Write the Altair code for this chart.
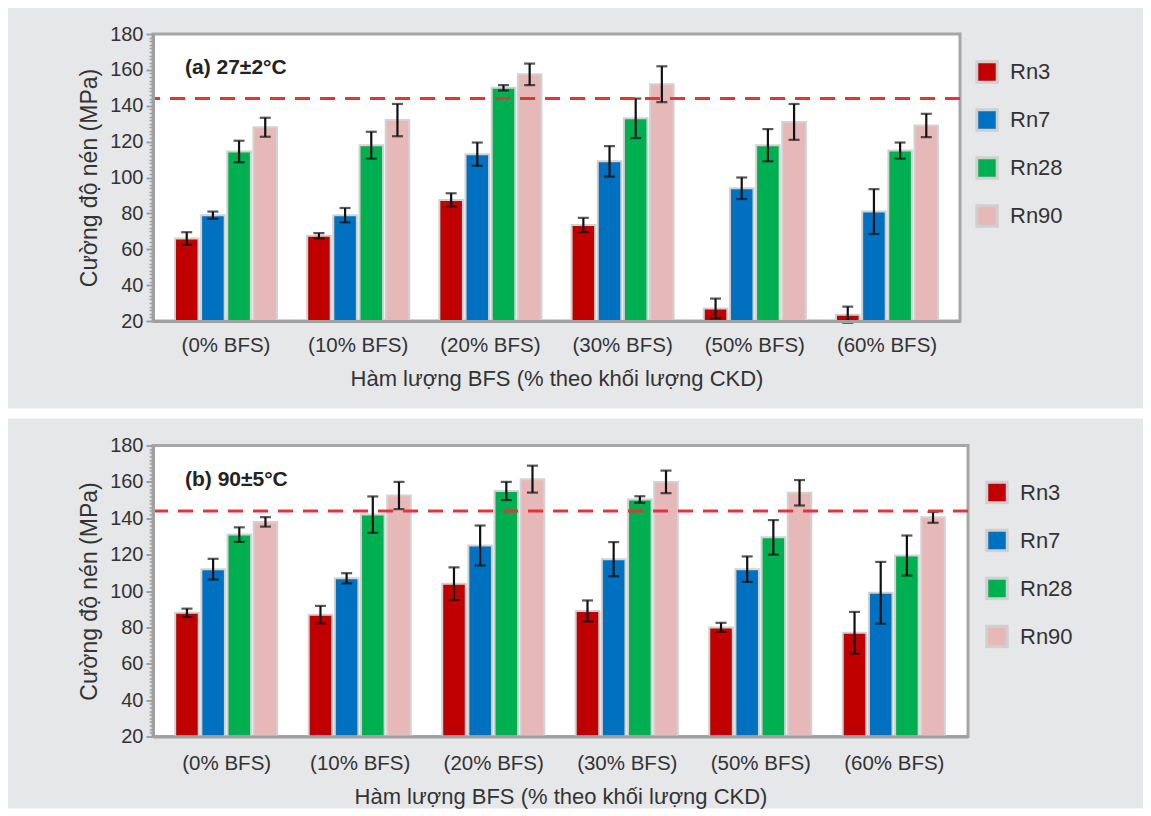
import altair as alt
import pandas as pd

groups = ["(0% BFS)", "(10% BFS)", "(20% BFS)", "(30% BFS)", "(50% BFS)", "(60% BFS)"]
series = ["Rn3", "Rn7", "Rn28", "Rn90"]

# Panel (a) 27±2°C
a_rn3 = [66, 67.5, 87.5, 73.5, 27, 23.5]
a_rn3_err = [3.5, 1.5, 3.7, 4, 5.5, 4.5]
a_rn7 = [79, 79, 113, 109, 94, 81]
a_rn7_err = [2, 4, 6.5, 8.5, 6, 12.5]
a_rn28 = [114.5, 118, 150, 133, 118, 115]
a_rn28_err = [6, 7.5, 1.5, 11, 9, 4.5]
a_rn90 = [128, 132, 157.5, 152, 131, 129]
a_rn90_err = [5.3, 9, 6, 10, 10, 6.5]

# Panel (b) 90±5°C
b_rn3 = [88, 87, 104, 89, 80, 77]
b_rn3_err = [2.3, 4.8, 9, 5.8, 2.5, 11.5]
b_rn7 = [112, 107, 125, 117.5, 112, 99]
b_rn7_err = [5.7, 2.8, 11, 9.4, 7, 17]
b_rn28 = [131, 142, 155, 150.3, 129.5, 119.5]
b_rn28_err = [4, 10, 5, 1.8, 9.5, 11]
b_rn90 = [138, 152.5, 161.5, 160, 154, 140.5]
b_rn90_err = [2.6, 7.5, 7.4, 6.2, 7, 3]

threshold = 144

bar_colors = ["#c00000", "#0070c0", "#00b050", "#e6b9b8"]

FONT = "Liberation Sans"


def make_df(vals, errs):
    rows = []
    for s, v, e in zip(series, vals, errs):
        for g, vv, ee in zip(groups, v, e):
            rows.append({"group": g, "series": s, "value": vv, "lo": vv - ee, "hi": vv + ee})
    return pd.DataFrame(rows)


def panel(df, label, W, H, top_pad, bot_pad, legend_x, legend_y, lab_pad, tit_pad):
    one = pd.DataFrame({"k": [0]})
    xaxis = alt.Axis(title="Hàm lượng BFS (% theo khối lượng CKD)", labelAngle=0,
                     tickSize=0, labelFontSize=20.5, titleFontSize=22,
                     labelPadding=lab_pad, titlePadding=tit_pad, domainColor="#a0a0a0",
                     domainWidth=3, zindex=1, titleFontWeight="normal",
                     labelColor="#333333", titleColor="#333333")
    yaxis = alt.Axis(title="Cường độ nén (MPa)", values=list(range(20, 181, 2)),
                     labelExpr="datum.value % 20 === 0 ? datum.label : ''",
                     labelOverlap=False, grid=False,
                     tickSize=alt.condition("datum.value % 20 === 0", alt.value(7), alt.value(4)),
                     tickWidth=alt.condition("datum.value % 20 === 0", alt.value(2), alt.value(1.5)),
                     tickColor="#a0a0a0", domainColor="#a0a0a0", domainWidth=3,
                     labelFontSize=20, titleFontSize=23, labelPadding=3,
                     titlePadding=8, titleFontWeight="normal", zindex=1,
                     labelColor="#333333", titleColor="#333333")
    xscale = alt.Scale(paddingInner=0.228, paddingOuter=0.166)
    ysc = alt.Scale(domain=[20, 180], nice=False, zero=False)

    def X():
        return alt.X("group:N", sort=groups, scale=xscale, axis=xaxis)

    def XO():
        return alt.XOffset("series:N", sort=series, scale=alt.Scale(paddingInner=0.1))

    def Y(field):
        return alt.Y(field, type="quantitative", scale=ysc, axis=yaxis)

    bg = alt.Chart(one).mark_rect(color="#e6e7e9").encode(
        x=alt.value(-145), x2=alt.value(990),
        y=alt.value(-top_pad), y2=alt.value(H + bot_pad))
    plotbg = alt.Chart(one).mark_rect(fill="white", stroke="#a6a6a6", strokeWidth=3).encode(
        x=alt.value(0), x2=alt.value(W), y=alt.value(0), y2=alt.value(H))

    bars = alt.Chart(df).mark_bar(stroke="#d2d2d2", strokeWidth=2).encode(
        x=X(), xOffset=XO(), y=Y("value"), y2=alt.datum(20),
        color=alt.Color("series:N", scale=alt.Scale(domain=series, range=bar_colors),
                        legend=alt.Legend(title=None, orient="none", legendX=legend_x,
                                          legendY=legend_y, zindex=2,
                                          symbolType="square", symbolSize=420,
                                          symbolStrokeColor="#d0d0d0", symbolStrokeWidth=3,
                                          labelFontSize=22, labelColor="#333333", labelFont=FONT,
                                          labelOffset=11, rowPadding=14)),
    )

    err = alt.Chart(df).mark_rule(color="#111111", strokeWidth=2.2).encode(
        x=X(), xOffset=XO(), y=Y("lo"), y2="hi:Q")
    cap_lo = alt.Chart(df).mark_tick(color="#111111", orient="horizontal", size=11, thickness=2.2).encode(
        x=X(), xOffset=XO(), y=Y("lo"))
    cap_hi = alt.Chart(df).mark_tick(color="#111111", orient="horizontal", size=11, thickness=2.2).encode(
        x=X(), xOffset=XO(), y=Y("hi"))

    thr = alt.Chart(pd.DataFrame({"t": [threshold]})).mark_rule(
        color="#e8323a", strokeWidth=3, strokeDash=[15, 10]).encode(y=Y("t"))

    txt = alt.Chart(pd.DataFrame({"label": [label]})).mark_text(
        align="left", baseline="middle", fontSize=21, fontWeight="bold", color="#222222", font=FONT
    ).encode(x=alt.value(32), y=alt.value(34), text="label:N")

    return alt.layer(bg, plotbg, bars, err, cap_lo, cap_hi, thr, txt).properties(width=W, height=H)


top = panel(make_df([a_rn3, a_rn7, a_rn28, a_rn90], [a_rn3_err, a_rn7_err, a_rn28_err, a_rn90_err]),
            "(a) 27±2°C", 807, 287, 26, 87.5, 822, 26, 14, 13)
bottom = panel(make_df([b_rn3, b_rn7, b_rn28, b_rn90], [b_rn3_err, b_rn7_err, b_rn28_err, b_rn90_err]),
               "(b) 90±5°C", 815, 291, 27, 72, 832, 35, 17, 12)

chart = alt.vconcat(top, bottom, spacing=9.5).resolve_scale(
    color="independent").resolve_legend(color="independent").properties(
    padding=0, background="white").configure(font=FONT).configure_view(stroke=None)

chart.save("out.html", embed_options={"renderer": "svg", "actions": False})
